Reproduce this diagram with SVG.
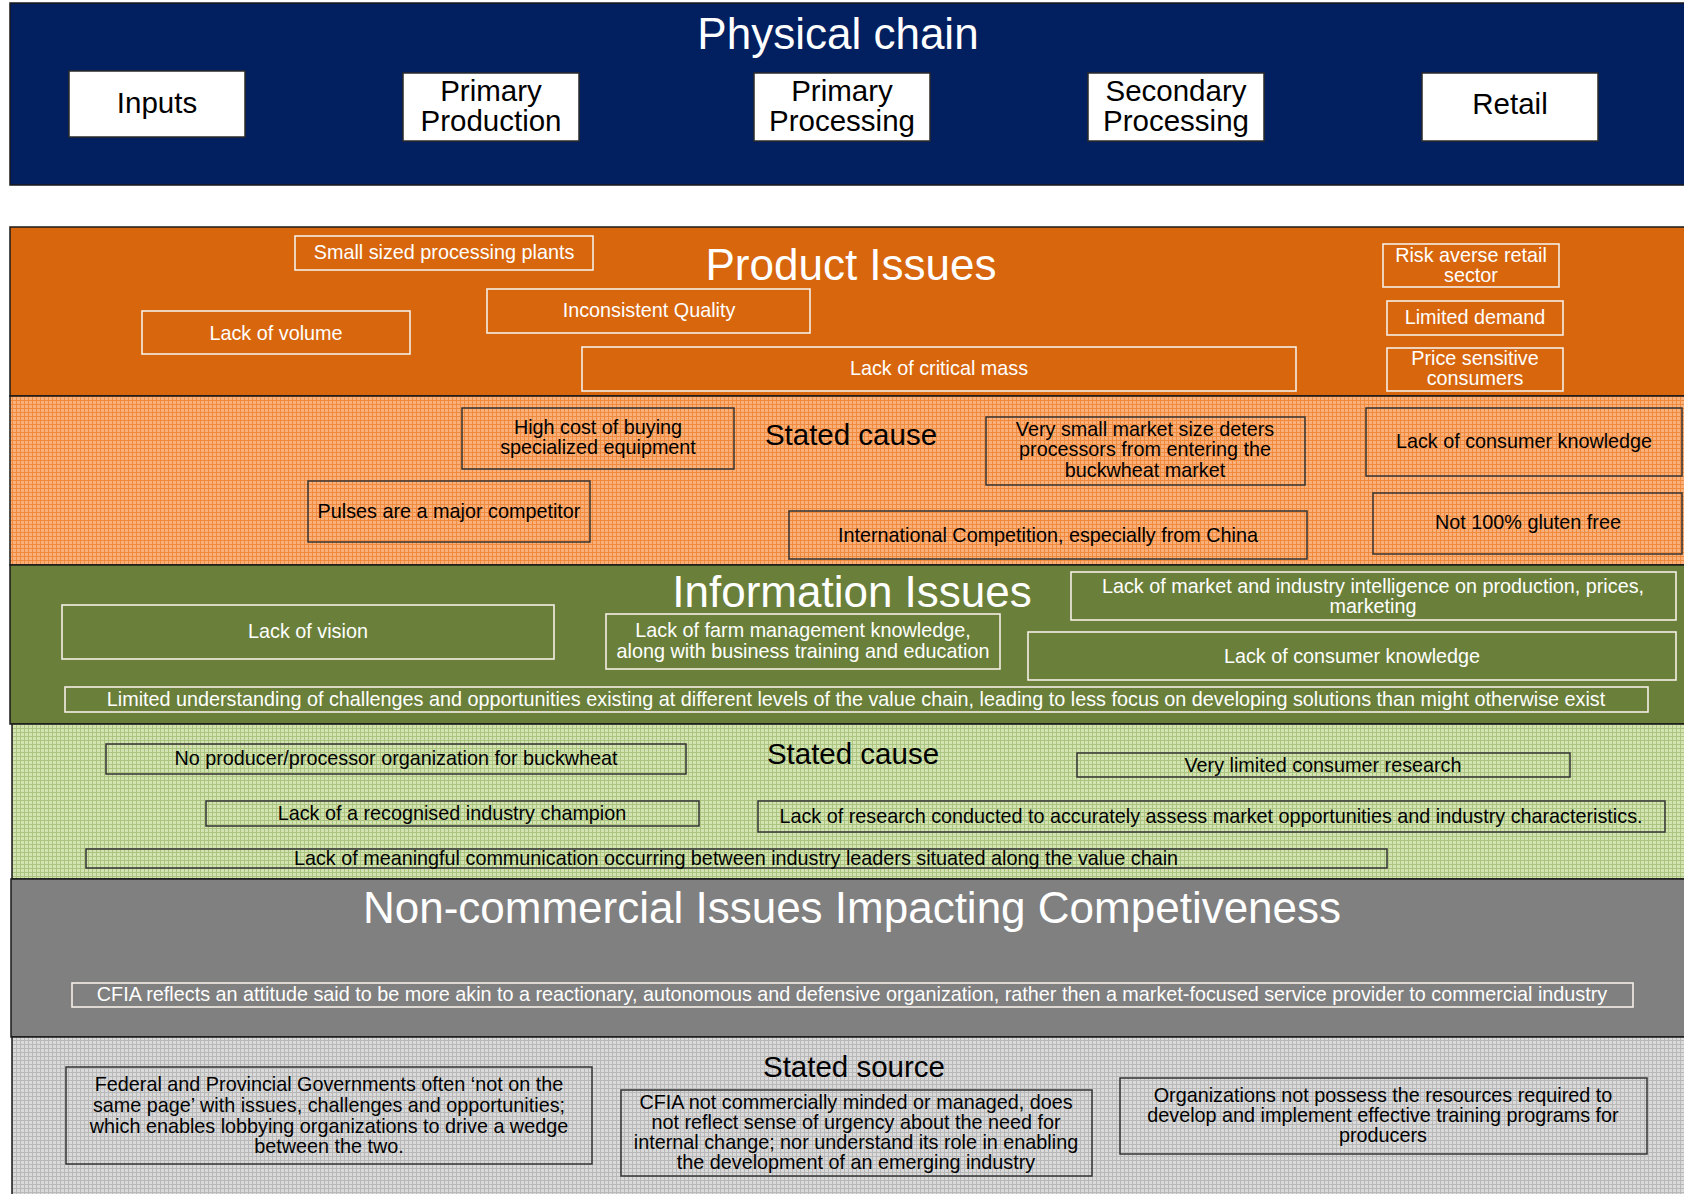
<svg xmlns="http://www.w3.org/2000/svg" width="1684" height="1194" viewBox="0 0 1684 1194">
<style>
text{font-family:"Liberation Sans",Arial,sans-serif;text-anchor:middle}
.title{font-size:44px;fill:#fff}
.sub{font-size:29.5px;fill:#000}
.chain{font-size:29.5px;fill:#000}
.w{font-size:19.8px;fill:#fff}
.b{font-size:19.8px;fill:#000}
.panel{stroke:#1a1a1a;stroke-width:1.5}
.cbox{fill:#fff;stroke:#2a2a2a;stroke-width:1.5}
.wbox{fill:none;stroke:#f4eee6;stroke-width:1.6}
.dbox{fill:none;stroke:#333;stroke-width:1.5}
</style>
<defs>
<pattern id="pOrange" width="4" height="4" patternUnits="userSpaceOnUse"><rect width="4" height="4" fill="#FAB07A"/><rect width="4" height="1" fill="#F08A3C"/><rect width="1" height="4" fill="#F08A3C"/></pattern>
<pattern id="pGreen" width="4" height="4" patternUnits="userSpaceOnUse"><rect width="4" height="4" fill="#D3E3B2"/><rect width="4" height="1" fill="#ABC581"/><rect width="1" height="4" fill="#ABC581"/></pattern>
<pattern id="pGray" width="4" height="4" patternUnits="userSpaceOnUse"><rect width="4" height="4" fill="#DADADA"/><rect width="4" height="1" fill="#B8B8B8"/><rect width="1" height="4" fill="#B8B8B8"/></pattern>
</defs>
<rect width="1684" height="1194" fill="#fff"/>

<!-- Panels -->
<g id="panel-physical">
<rect class="panel" x="10" y="3" width="1680" height="182" fill="#022060"/>
<text class="title" x="838" y="49">Physical chain</text>
</g>
<g id="panel-product">
<rect class="panel" x="10" y="227" width="1680" height="169" fill="#D8660D"/>
<text class="title" x="851" y="280">Product Issues</text>
</g>
<g id="panel-product-cause">
<rect class="panel" x="10" y="396" width="1680" height="169" fill="url(#pOrange)"/>
<text class="sub" x="851" y="445">Stated cause</text>
</g>
<g id="panel-information">
<rect class="panel" x="10" y="565" width="1680" height="159" fill="#6A803A"/>
<text class="title" x="852" y="607">Information Issues</text>
</g>
<g id="panel-information-cause">
<rect class="panel" x="12" y="724" width="1680" height="155" fill="url(#pGreen)"/>
<text class="sub" x="853" y="764">Stated cause</text>
</g>
<g id="panel-noncommercial">
<rect class="panel" x="11" y="879" width="1680" height="158" fill="#808080"/>
<text class="title" x="852" y="923">Non-commercial Issues Impacting Competiveness</text>
</g>
<g id="panel-source">
<rect class="panel" x="12" y="1037" width="1680" height="170" fill="url(#pGray)"/>
<text class="sub" x="854" y="1077">Stated source</text>
</g>

<!-- Physical chain nodes -->
<g id="node-inputs"><rect class="cbox" x="69" y="71" width="176" height="66"/><text class="chain" x="157" y="113">Inputs</text></g>
<g id="node-primary-production"><rect class="cbox" x="403" y="73" width="176" height="68"/><text class="chain" x="491" y="101">Primary</text><text class="chain" x="491" y="131">Production</text></g>
<g id="node-primary-processing"><rect class="cbox" x="754" y="73" width="176" height="68"/><text class="chain" x="842" y="101">Primary</text><text class="chain" x="842" y="131">Processing</text></g>
<g id="node-secondary-processing"><rect class="cbox" x="1088" y="73" width="176" height="68"/><text class="chain" x="1176" y="101">Secondary</text><text class="chain" x="1176" y="131">Processing</text></g>
<g id="node-retail"><rect class="cbox" x="1422" y="73" width="176" height="68"/><text class="chain" x="1510" y="114">Retail</text></g>

<!-- Product issues -->
<g id="node-small-plants"><rect class="wbox" x="295" y="236" width="298" height="34"/><text class="w" x="444" y="259">Small sized processing plants</text></g>
<g id="node-inconsistent-quality"><rect class="wbox" x="487" y="289" width="323" height="44"/><text class="w" x="649" y="317">Inconsistent Quality</text></g>
<g id="node-lack-volume"><rect class="wbox" x="142" y="311" width="268" height="43"/><text class="w" x="276" y="340">Lack of volume</text></g>
<g id="node-critical-mass"><rect class="wbox" x="582" y="347" width="714" height="44"/><text class="w" x="939" y="375">Lack of critical mass</text></g>
<g id="node-risk-averse"><rect class="wbox" x="1383" y="244" width="176" height="43"/><text class="w" x="1471" y="262">Risk averse retail</text><text class="w" x="1471" y="282">sector</text></g>
<g id="node-limited-demand"><rect class="wbox" x="1387" y="301" width="176" height="34"/><text class="w" x="1475" y="324">Limited demand</text></g>
<g id="node-price-sensitive"><rect class="wbox" x="1387" y="348" width="176" height="43"/><text class="w" x="1475" y="365">Price sensitive</text><text class="w" x="1475" y="385">consumers</text></g>

<!-- Product stated causes -->
<g id="node-high-cost"><rect class="dbox" x="462" y="408" width="272" height="61"/><text class="b" x="598" y="434">High cost of buying</text><text class="b" x="598" y="454">specialized equipment</text></g>
<g id="node-pulses"><rect class="dbox" x="308" y="481" width="282" height="61"/><text class="b" x="449" y="518">Pulses are a major competitor</text></g>
<g id="node-small-market"><rect class="dbox" x="986" y="417" width="319" height="68"/><text class="b" x="1145" y="436">Very small market size deters</text><text class="b" x="1145" y="456">processors from entering the</text><text class="b" x="1145" y="477">buckwheat market</text></g>
<g id="node-international"><rect class="dbox" x="789" y="511" width="518" height="48"/><text class="b" x="1048" y="542">International Competition, especially from China</text></g>
<g id="node-consumer-knowledge-1"><rect class="dbox" x="1366" y="408" width="316" height="68"/><text class="b" x="1524" y="448">Lack of consumer knowledge</text></g>
<g id="node-gluten"><rect class="dbox" x="1373" y="493" width="309" height="61"/><text class="b" x="1528" y="529">Not 100% gluten free</text></g>

<!-- Information issues -->
<g id="node-vision"><rect class="wbox" x="62" y="605" width="492" height="54"/><text class="w" x="308" y="638">Lack of vision</text></g>
<g id="node-farm-management"><rect class="wbox" x="606" y="614" width="394" height="55"/><text class="w" x="803" y="637">Lack of farm management knowledge,</text><text class="w" x="803" y="658">along with business training and education</text></g>
<g id="node-market-intelligence"><rect class="wbox" x="1071" y="572" width="605" height="48"/><text class="w" x="1373" y="593">Lack of market and industry intelligence on production, prices,</text><text class="w" x="1373" y="613">marketing</text></g>
<g id="node-consumer-knowledge-2"><rect class="wbox" x="1028" y="632" width="648" height="48"/><text class="w" x="1352" y="663">Lack of consumer knowledge</text></g>
<g id="node-limited-understanding"><rect class="wbox" x="65" y="687" width="1583" height="25"/><text class="w" x="856" y="706">Limited understanding of challenges and opportunities existing at different levels of the value chain, leading to less focus on developing solutions than might otherwise exist</text></g>

<!-- Information stated causes -->
<g id="node-no-organization"><rect class="dbox" x="106" y="744" width="580" height="30"/><text class="b" x="396" y="765">No producer/processor organization for buckwheat</text></g>
<g id="node-consumer-research"><rect class="dbox" x="1077" y="753" width="493" height="24"/><text class="b" x="1323" y="772">Very limited consumer research</text></g>
<g id="node-industry-champion"><rect class="dbox" x="206" y="801" width="493" height="25"/><text class="b" x="452" y="820">Lack of a recognised industry champion</text></g>
<g id="node-research"><rect class="dbox" x="758" y="801" width="907" height="31"/><text class="b" x="1211" y="823">Lack of research conducted to accurately assess market opportunities and industry characteristics.</text></g>
<g id="node-communication"><rect class="dbox" x="86" y="849" width="1301" height="19"/><text class="b" x="736" y="865">Lack of meaningful communication occurring between industry leaders situated along the value chain</text></g>

<!-- Non-commercial -->
<g id="node-cfia-attitude"><rect class="wbox" x="72" y="983" width="1561" height="24" stroke="#d8d8d8"/><text class="w" x="852" y="1001">CFIA reflects an attitude said to be more akin to a reactionary, autonomous and defensive organization, rather then a market-focused service provider to commercial industry</text></g>

<!-- Stated sources -->
<g id="node-governments"><rect class="dbox" x="66" y="1067" width="526" height="97"/><text class="b" x="329" y="1091">Federal and Provincial Governments often ‘not on the</text><text class="b" x="329" y="1112">same page’ with issues, challenges and opportunities;</text><text class="b" x="329" y="1133">which enables lobbying organizations to drive a wedge</text><text class="b" x="329" y="1153">between the two.</text></g>
<g id="node-cfia-commercial"><rect class="dbox" x="621" y="1090" width="471" height="86"/><text class="b" x="856" y="1109">CFIA not commercially minded or managed, does</text><text class="b" x="856" y="1129">not reflect sense of urgency about the need for</text><text class="b" x="856" y="1149">internal change; nor understand its role in enabling</text><text class="b" x="856" y="1169">the development of an emerging industry</text></g>
<g id="node-organizations"><rect class="dbox" x="1120" y="1078" width="527" height="76"/><text class="b" x="1383" y="1102">Organizations not possess the resources required to</text><text class="b" x="1383" y="1122">develop and implement effective training programs for</text><text class="b" x="1383" y="1142">producers</text></g>

<g id="connectors"/>
</svg>
